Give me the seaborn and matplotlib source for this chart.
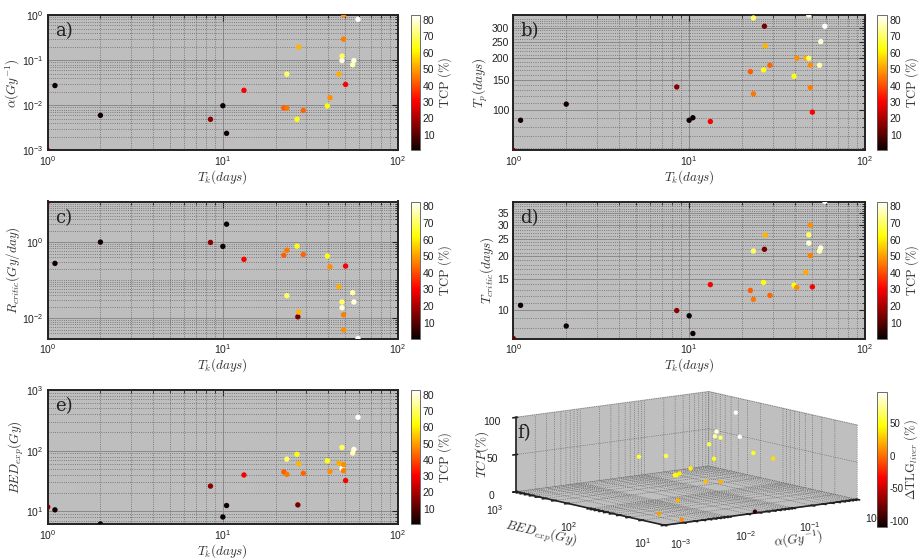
import numpy as np
import pandas as pd
import matplotlib
matplotlib.use('Agg')
import matplotlib.pyplot as plt
import matplotlib.ticker as mticker
import matplotlib.colors as mcolors
import matplotlib.cm as mcm
import seaborn as sns

# ---------------- data (one entry per patient) ----------------
Tk = [1.0, 1.1, 2.0, 8.5, 10.0, 10.5, 13.2, 22.3, 23.2, 23.2, 26.5, 26.8, 27.1,
      28.8, 39.5, 40.9, 46.0, 47.9, 47.9, 48.9, 48.9, 50.2, 55.1, 56.0, 59.1]
TCP = [14, 1, 1, 16, 1, 1, 30, 42, 45, 70, 63, 14, 53,
       43, 63, 48, 52, 70, 80, 48, 46, 30, 76, 80, 83]
alpha = [0.001, 0.0274, 0.006, 0.0049, 0.0098, 0.0024, 0.0215, 0.0087, 0.0087, 0.049, 0.0049, np.nan, 0.195,
         0.0077, 0.0097, 0.0148, 0.049, 0.123, 0.098, 1.0, 0.293, 0.029, 0.079, 0.098, 0.80]
Tp = [58, 87, 108, 136, 87, 90, 85.6, 167, 124, 343, 171, 307, 236,
      182, 157, 200, 200, 200, 357, 182, 135, 97, 182, 250, 307]
Rcritic = [11.7, 0.275, 1.0, 0.98, 0.77, 2.96, 0.352, 0.45, 0.61, 0.039, 0.78, 0.0108, 0.0144,
           0.47, 0.43, 0.224, 0.067, 0.0265, 0.0187, 0.0049, 0.0122, 0.234, 0.0464, 0.0265, 0.0029]
Tcritic = [6.95, 10.65, 8.16, 9.96, 9.31, 7.41, 13.9, 12.9, 11.5, 21.4, 14.3, 21.9, 26.3,
           12.1, 13.8, 13.4, 16.3, 26.4, 23.7, 29.9, 20.2, 13.5, 21.4, 22.3, 40.5]
BED = [11.8, 10.6, 6.2, 26.1, 8.1, 12.5, 39.8, 44.6, 40.8, 72.5, 87.2, 12.8, 60.8,
       42.4, 68.1, 45.7, 62.3, 113, 51, 59, 46.8, 32.2, 91.6, 105, 356]
dTLG = [15, -100, 10, 20, 12, 10, 25, 45, 40, 60, 55, 15, 50,
        45, 60, 40, 50, 65, 95, 55, 35, 20, 75, 90, 95]

df = pd.DataFrame(dict(Tk=Tk, TCP=TCP, alpha=alpha, Tp=Tp, Rcritic=Rcritic,
                       Tcritic=Tcritic, BED=BED, dTLG=dTLG))

# ---------------- style ----------------
sns.set_theme(style='white')
plt.rcParams['font.family'] = ['Liberation Sans', 'DejaVu Sans']
plt.rcParams['mathtext.fontset'] = 'custom'
plt.rcParams['mathtext.rm'] = 'Liberation Sans'
plt.rcParams['mathtext.it'] = 'Liberation Sans:italic'
plt.rcParams['mathtext.bf'] = 'Liberation Sans:bold'
plt.rcParams['axes.unicode_minus'] = False

W, H = 919, 559
fig = plt.figure(figsize=(W / 100, H / 100), dpi=100)
BG = '#bebebe'
tcp_norm = mcolors.Normalize(0.47, 83)
tlg_norm = mcolors.Normalize(-110, 98)
LAB = dict(fontsize=9.5, math_fontfamily='cm', color='#333333')
TICK = 7.5

def fr(x0, y0, x1, y1):
    return [x0 / W, 1 - y1 / H, (x1 - x0) / W, (y1 - y0) / H]

def style_axes(ax):
    ax.set_facecolor(BG)
    for s in ax.spines.values():
        s.set_linewidth(1.4)
        s.set_color('#222222')
    ax.tick_params(which='both', direction='in', top=True, right=True,
                   labelsize=TICK, colors='#222222', pad=3)
    ax.tick_params(which='major', length=4, width=0.8)
    ax.tick_params(which='minor', length=2.2, width=0.6)
    ax.grid(True, which='major', color='#8a8a8a', linestyle='-', linewidth=0.7)
    ax.grid(True, which='minor', color='#666666', linestyle=':', linewidth=0.6)
    ax.set_axisbelow(True)

def cbar(cax, norm, ticks, label, pad=1, tsize=TICK, label_x=None):
    sm = mcm.ScalarMappable(norm=norm, cmap='hot')
    cb = fig.colorbar(sm, cax=cax, ticks=ticks)
    cb.outline.set_linewidth(0.6)
    cb.outline.set_edgecolor('#555555')
    cax.tick_params(labelsize=tsize, length=0, pad=2, colors='#222222')
    cax.set_ylabel(label, labelpad=pad, fontsize=9, math_fontfamily='cm', color='#333333')
    if label_x is not None:
        cax.yaxis.label.set_horizontalalignment('center')
        cax.yaxis.label.set_verticalalignment('center')
        cax.yaxis.set_label_coords(label_x, 0.5)
    return cb

def minor_log(lo_exp, hi_exp, skip_majors):
    vals = []
    for e in range(lo_exp, hi_exp + 1):
        for k in range(1, 10):
            v = k * 10.0 ** e
            if not any(np.isclose(v, m) for m in skip_majors):
                vals.append(v)
    return vals

def scatter_panel(ax, ycol, xpad=0):
    sns.scatterplot(data=df, x='Tk', y=ycol, hue='TCP', palette='hot', hue_norm=tcp_norm,
                    s=15, linewidth=0, legend=False, ax=ax, zorder=3)
    ax.set_xscale('log')
    ax.set_yscale('log')
    ax.set_xlim(1, 100)
    style_axes(ax)
    ax.set_xlabel(r'$T_k(days)$', labelpad=xpad, **LAB)

def panel_label(ax, s):
    ax.text(0.02, 0.88, s, transform=ax.transAxes, fontsize=13, va='center',
            family='DejaVu Serif', color='#222222')

rows = [(15, 150.5), (201.5, 338.5), (390, 524)]
lcol = (47.7, 398)
rcol = (513.3, 865)
cbl = (410.5, 420)
cbr = (877, 887)
tcp_label = r'$\mathrm{TCP\ (\%)}$'

# ---- a) ----
ax = fig.add_axes(fr(lcol[0], rows[0][0], lcol[1], rows[0][1]))
scatter_panel(ax, 'alpha')
ax.set_ylim(1e-3, 1)
ax.set_ylabel(r'$\alpha(Gy^{-1})$', labelpad=0, **LAB)
panel_label(ax, 'a)')
cbar(fig.add_axes(fr(cbl[0], rows[0][0], cbl[1], rows[0][1])), tcp_norm, range(10, 81, 10), tcp_label)

# ---- b) ----
ax = fig.add_axes(fr(rcol[0], rows[0][0], rcol[1], rows[0][1]))
scatter_panel(ax, 'Tp')
ax.set_ylim(58, 357)
ax.yaxis.set_major_locator(mticker.FixedLocator([100, 150, 200, 250, 300]))
ax.yaxis.set_major_formatter(mticker.FixedFormatter(['100', '150', '200', '250', '300']))
ax.yaxis.set_minor_locator(mticker.FixedLocator([v for v in range(60, 360, 10) if v % 50 != 0]))
ax.yaxis.set_minor_formatter(mticker.NullFormatter())
ax.set_ylabel(r'$T_p(days)$', labelpad=1, **LAB)
panel_label(ax, 'b)')
cbar(fig.add_axes(fr(cbr[0], rows[0][0], cbr[1], rows[0][1])), tcp_norm, range(10, 81, 10), tcp_label)

# ---- c) ----
ax = fig.add_axes(fr(lcol[0], rows[1][0], lcol[1], rows[1][1]))
scatter_panel(ax, 'Rcritic')
ax.set_ylim(0.0029, 11.7)
ax.yaxis.set_major_locator(mticker.FixedLocator([1e-2, 1e0]))
ax.yaxis.set_major_formatter(mticker.LogFormatterSciNotation())
ax.yaxis.set_minor_locator(mticker.FixedLocator(minor_log(-3, 1, [1e-2, 1e0])))
ax.yaxis.set_minor_formatter(mticker.NullFormatter())
ax.set_ylabel(r'$R_{critic}(Gy/day)$', labelpad=0, **LAB)
panel_label(ax, 'c)')
cbar(fig.add_axes(fr(cbl[0], rows[1][0], cbl[1], rows[1][1])), tcp_norm, range(10, 81, 10), tcp_label)

# ---- d) ----
ax = fig.add_axes(fr(rcol[0], rows[1][0], rcol[1], rows[1][1]))
scatter_panel(ax, 'Tcritic')
ax.set_ylim(6.95, 40.5)
ax.yaxis.set_major_locator(mticker.FixedLocator([10, 15, 20, 25, 30, 35]))
ax.yaxis.set_major_formatter(mticker.FixedFormatter(['10', '15', '20', '25', '30', '35']))
ax.yaxis.set_minor_locator(mticker.FixedLocator([v for v in range(7, 41) if v % 5 != 0]))
ax.yaxis.set_minor_formatter(mticker.NullFormatter())
ax.set_ylabel(r'$T_{critic}(days)$', labelpad=1, **LAB)
panel_label(ax, 'd)')
cbar(fig.add_axes(fr(cbr[0], rows[1][0], cbr[1], rows[1][1])), tcp_norm, range(10, 81, 10), tcp_label)

# ---- e) ----
ax = fig.add_axes(fr(lcol[0], rows[2][0], lcol[1], rows[2][1]))
scatter_panel(ax, 'BED', xpad=0)
ax.set_ylim(6.2, 1000)
ax.set_ylabel(r'$BED_{exp}(Gy)$', labelpad=0, **LAB)
panel_label(ax, 'e)')
cbar(fig.add_axes(fr(cbl[0], rows[2][0], cbl[1], rows[2][1])), tcp_norm, range(10, 81, 10), tcp_label)

# ---- f) 3D ----
ax3 = fig.add_axes(fr(489, 366, 879, 556), projection='3d')
ax3.set_facecolor('none')
ax3.patch.set_alpha(0)
ax3.set_proj_type('ortho')
ax3.view_init(elev=10, azim=-127.6)
ax3.set_box_aspect((1, 1, 0.31), zoom=1.8)
lx = np.log10(df['alpha'].to_numpy())
ly = np.log10(df['BED'].to_numpy())
ax3.scatter(lx, ly, df['TCP'], c=df['dTLG'], cmap='hot', norm=tlg_norm, s=10,
            depthshade=False, linewidths=0, axlim_clip=True)
ax3.set_xlim(-3, 0)
ax3.set_ylim(1, 3)
ax3.set_zlim(0, 100)
for axis in (ax3.xaxis, ax3.yaxis, ax3.zaxis):
    axis.set_pane_color((0.75, 0.75, 0.75, 1.0))
    axis._axinfo['grid']['color'] = (0.35, 0.35, 0.35, 1)
    axis._axinfo['grid']['linestyle'] = ':'
    axis._axinfo['grid']['linewidth'] = 0.5
    axis.line.set_linewidth(1.2)
    axis.line.set_color('#222222')

def log_ticks(lo, hi):
    pos, lab = [], []
    for e in range(lo, hi):
        for k in range(1, 10):
            pos.append(np.log10(k * 10.0 ** e))
            lab.append(r'$10^{%d}$' % e if k == 1 else '')
    pos.append(float(hi))
    lab.append(r'$10^{%d}$' % hi)
    return pos, lab

px, lbx = log_ticks(-3, 0)
ax3.set_xticks(px)
ax3.set_xticklabels(lbx)
py, lby = log_ticks(1, 3)
ax3.set_yticks(py)
ax3.set_yticklabels(lby)
ax3.set_zticks([0, 50, 100])
ax3.tick_params(labelsize=TICK, pad=0, colors='#222222')
ax3.tick_params(axis='z', pad=-3)
ax3.set_xlabel(r'$\alpha(Gy^{-1})$', labelpad=-3, **LAB)
ax3.set_ylabel(r'$BED_{exp}(Gy)$', labelpad=-3, **LAB)
ax3.set_zlabel(r'$TCP(\%)$', labelpad=-14, **LAB)
fig.text(517 / W, 1 - 433 / H, 'f)', fontsize=13, family='DejaVu Serif', color='#222222', va='center')
cbar(fig.add_axes(fr(cbr[0], 392, cbr[1], 527)), tlg_norm, [-100, -50, 0, 50],
     r'$\Delta\mathrm{TLG}_{liver}\ (\%)$', pad=0, tsize=7, label_x=3.45)

fig.savefig('out.png', dpi=100)
